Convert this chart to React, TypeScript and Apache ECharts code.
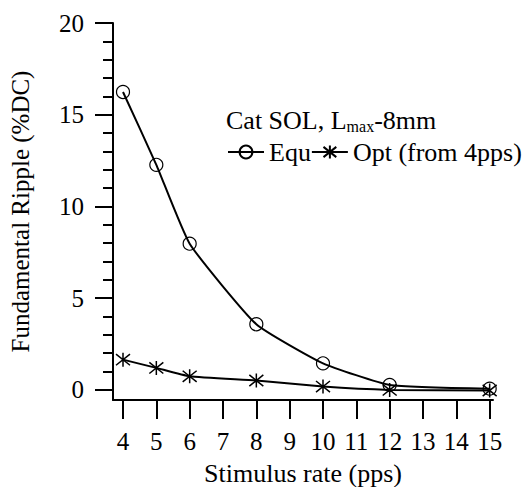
import React, { useEffect, useRef } from "react";
import * as echarts from "echarts";

const rates = [4, 5, 6, 8, 10, 12, 15];
const equValues = [16.24, 12.27, 7.97, 3.58, 1.45, 0.27, 0.07];
const optValues = [1.65, 1.2, 0.74, 0.51, 0.18, 0.0, -0.03];
const xTicks = [4, 5, 6, 7, 8, 9, 10, 11, 12, 13, 14, 15];
const yMajorTicks = [0, 5, 10, 15, 20];
const yMinorTicks = [1, 2, 3, 4, 6, 7, 8, 9, 11, 12, 13, 14, 16, 17, 18, 19];

const FONT = "Liberation Serif";
const STAR = "path://M0,-1L0,1M-0.8,-0.8L0.8,0.8M-0.8,0.8L0.8,-0.8";

export default function App() {
  const ref = useRef<HTMLDivElement>(null);
  useEffect(() => {
    if (!ref.current) return;
    const chart = echarts.init(ref.current, null, { renderer: "svg" });
    const toPairs = (vals: number[]) => rates.map((r, i) => [r, vals[i]]);
    chart.setOption({
      animation: false,
      backgroundColor: "#fff",
      color: ["#000", "#000"],
      textStyle: { fontFamily: FONT, color: "#000" },
      grid: { left: 113, right: 34, top: 23, bottom: 87, containLabel: false, outerBoundsMode: "none" },
      legend: {
        left: 227,
        top: 139,
        width: 300,
        padding: 0,
        itemWidth: 36,
        itemHeight: 16,
        itemGap: 0,
        textStyle: { fontFamily: FONT, fontSize: 26, color: "#000" },
        data: ["Equ", "Opt (from 4pps)"],
      },
      graphic: [
        {
          type: "text",
          left: 226,
          top: 107,
          style: {
            text: "{n|Cat SOL, L}{s|max}{n|-8mm}",
            fill: "#000",
            rich: {
              n: { fontFamily: FONT, fontSize: 26, fill: "#000" },
              s: { fontFamily: FONT, fontSize: 16, fill: "#000", padding: [12, 0, 0, 0] },
            },
          },
        },
      ],
      xAxis: {
        type: "value",
        min: 3.7,
        max: 15.1,
        name: "Stimulus rate (pps)",
        nameLocation: "middle",
        nameGap: 60,
        nameTextStyle: { fontFamily: FONT, fontSize: 26, color: "#000" },
        axisLine: { show: true, onZero: false, lineStyle: { color: "#000", width: 2 } },
        axisTick: { show: true, inside: false, length: 19, customValues: xTicks, lineStyle: { color: "#000", width: 2 } },
        axisLabel: { customValues: xTicks, margin: 29, fontFamily: FONT, fontSize: 25, color: "#000" },
        splitLine: { show: false },
      },
      yAxis: [
        {
          type: "value",
          min: -0.55,
          max: 20,
          name: "Fundamental Ripple (%DC)",
          nameLocation: "middle",
          nameGap: 80,
          nameTextStyle: { fontFamily: FONT, fontSize: 25, color: "#000" },
          axisLine: { show: true, onZero: false, lineStyle: { color: "#000", width: 2 } },
          axisTick: { show: true, inside: false, length: 18, customValues: yMajorTicks, lineStyle: { color: "#000", width: 2 } },
          axisLabel: { customValues: yMajorTicks, margin: 29, fontFamily: FONT, fontSize: 25, color: "#000" },
          splitLine: { show: false },
        },
        {
          type: "value",
          min: -0.55,
          max: 20,
          position: "left",
          axisLine: { show: false },
          axisTick: { show: true, inside: false, length: 10, customValues: yMinorTicks, lineStyle: { color: "#000", width: 2 } },
          axisLabel: { show: false },
          splitLine: { show: false },
        },
      ],
      series: [
        {
          name: "Equ",
          type: "line",
          data: toPairs(equValues),
          smooth: 0.15,
          symbol: "circle",
          symbolSize: 13,
          itemStyle: { color: "rgba(0,0,0,0)", borderColor: "#000", borderWidth: 1.2 },
          lineStyle: { color: "#000", width: 2 },
        },
        {
          name: "Opt (from 4pps)",
          type: "line",
          data: toPairs(optValues),
          smooth: 0.15,
          symbol: STAR,
          symbolSize: 14,
          itemStyle: { color: "rgba(0,0,0,0)", borderColor: "#000", borderWidth: 1.5 },
          lineStyle: { color: "#000", width: 2 },
        },
      ],
    });
    return () => chart.dispose();
  }, []);
  return <div ref={ref} style={{ width: 527, height: 487, position: "absolute", left: 0, top: 0 }} />;
}
